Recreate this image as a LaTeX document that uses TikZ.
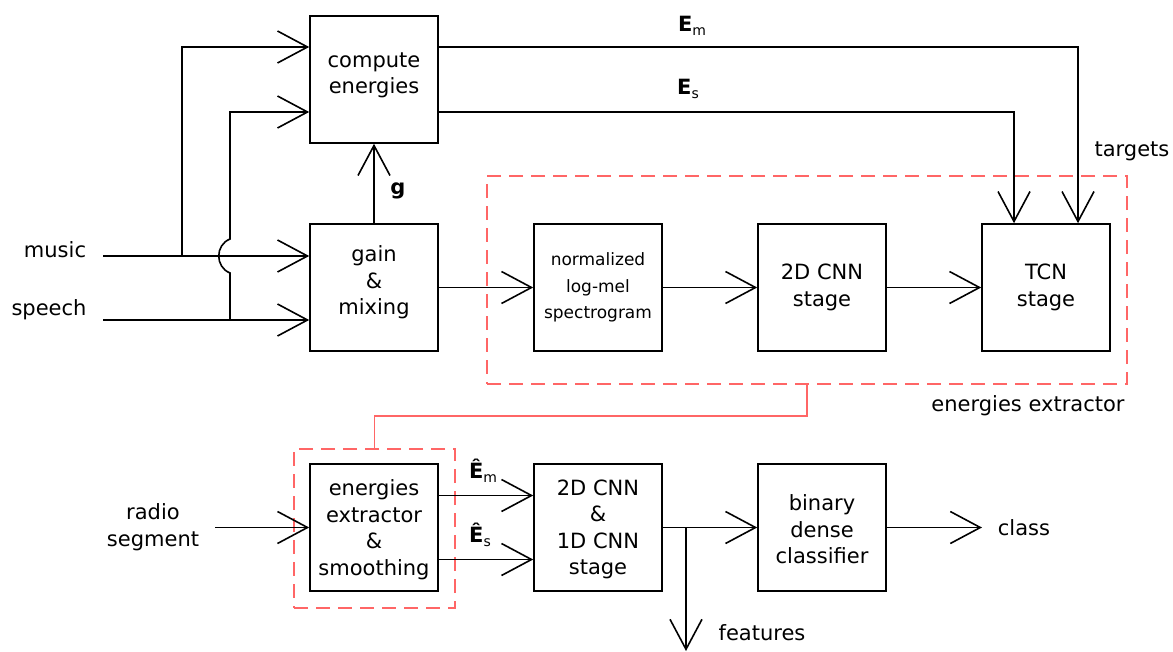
\documentclass[tikz,border=0pt]{standalone}
\usepackage{fontspec}
\setmainfont{DejaVu Sans}
\usetikzlibrary{arrows.meta,calc}
\begin{document}
\begin{tikzpicture}[x=1pt,y=-1pt,
  line width=1.6pt,
  every node/.style={font=\fontsize{21}{26.5}\selectfont, inner sep=0pt},
  box/.style={draw, minimum width=128pt, minimum height=127pt, align=center},
  small/.style={font=\fontsize{17}{26.5}\selectfont},
  arr/.style={-{Straight Barb[length=30pt,width=32pt]}},
  redbox/.style={draw=red!60!white, dashed, dash pattern=on 14pt off 8pt, line width=1.6pt, minimum width=#1},
  redline/.style={draw=red!60!white, line width=1.6pt},
  lbl/.style={align=center}]
\useasboundingbox (0,0) rectangle (1173,651);

% processing blocks
\node[box] (compute) at (374,79.5) {};
\node[lbl] (computetxt) at ([yshift=4pt]compute.center) {compute\\energies};
\node[box] (gain)    at (374,287.5) {};
\node[lbl] (gaintxt) at ([yshift=5pt]gain.center) {gain\\\&\\mixing};
\node[box,small] (norm) at (598,287.5) {normalized\\log-mel\\spectrogram};
\node[box] (cnntwo)  at (822,287.5) {2D CNN\\stage};
\node[box] (tcn)     at (1046,287.5) {TCN\\stage};
\node[box] (ext)     at (374,527.5) {};
\node[lbl] (exttxt)  at ([yshift=-2pt]ext.center) {energies\\extractor\\\&\\smoothing};
\node[box] (cnn)     at (598,527.5) {};
\node[lbl] (cnntxt)  at ([yshift=-2pt]cnn.center) {2D CNN\\\&\\1D CNN\\stage};
\node[box] (bin)     at (822,527.5) {};
\node[lbl] (bintxt)  at ([yshift=-2pt]bin.center) {binary\\dense\\classifier};

% dashed groupings
\node[redbox=640pt, minimum height=208pt] (exgroup) at (807,280) {};
\node[redbox=161pt, minimum height=159pt] (smgroup) at (374.5,528.5) {};
\draw[redline] (exgroup.south) -- ++(0,31) -| (smgroup.north);

% free ends
\coordinate (musicin) at (103,256);
\coordinate (speechin) at (103,320);
\coordinate (mj) at (182,256);
\coordinate (sj) at (230,320);
\coordinate (radioin) at (215,527.5);
\coordinate (fj) at (686,527.5);
\coordinate (featout) at (686,651);
\coordinate (classout) at (982,527.5);

% input signals
\draw[arr] (musicin) -- (musicin -| gain.west);
\draw[arr] (speechin) -- (speechin -| gain.west);
\draw[arr] (mj) |- ([yshift=32.5pt]compute.west);
\draw[arr] (sj) -- (230,273) .. controls (215,267) and (215,245) .. (230,239) |- ([yshift=-32.5pt]compute.west);
\draw[arr] (gain.north) -- (compute.south);

% energy targets
\draw[arr] ([yshift=32.5pt]compute.east) -| ([xshift=32pt]tcn.north);
\draw[arr] ([yshift=-32.5pt]compute.east) -| ([xshift=-32pt]tcn.north);

% extractor chain
\draw[arr] (gain.east) -- (norm.west);
\draw[arr] (norm.east) -- (cnntwo.west);
\draw[arr] (cnntwo.east) -- (tcn.west);

% classifier chain
\draw[arr] (radioin) -- (ext.west);
\draw[arr] ([yshift=32pt]ext.east) -- ([yshift=32pt]cnn.west);
\draw[arr] ([yshift=-32pt]ext.east) -- ([yshift=-32pt]cnn.west);
\draw[arr] (cnn.east) -- (bin.west);
\draw[arr] (fj) -- (featout);
\draw[arr] (bin.east) -- (classout);

% labels
\node[lbl] (musiclbl) at (55,250) {music};
\node[lbl] (speechlbl) at (49,310) {speech};
\node[lbl] (radiolbl) at (153,527) {radio\\segment};
\node[lbl] (glbl) at (398,191) {\textbf{g}};
\node[lbl] (emlbl) at (692,26) {\textbf{E}\raisebox{-4pt}{\fontsize{14}{14}\selectfont m}};
\node[lbl] (eslbl) at (688,89) {\textbf{E}\raisebox{-4pt}{\fontsize{14}{14}\selectfont s}};
\node[lbl] (emhat) at (483,471) {\textbf{Ê}\raisebox{-4pt}{\fontsize{14}{14}\selectfont m}};
\node[lbl] (eshat) at (480,535) {\textbf{Ê}\raisebox{-4pt}{\fontsize{14}{14}\selectfont s}};
\node[lbl] (targets) at (1132,151) {targets};
\node[lbl] (exlbl) at (1028,406) {energies extractor};
\node[lbl] (classlbl) at (1024,528) {class};
\node[lbl] (featlbl) at (762,633) {features};
\end{tikzpicture}
\end{document}
